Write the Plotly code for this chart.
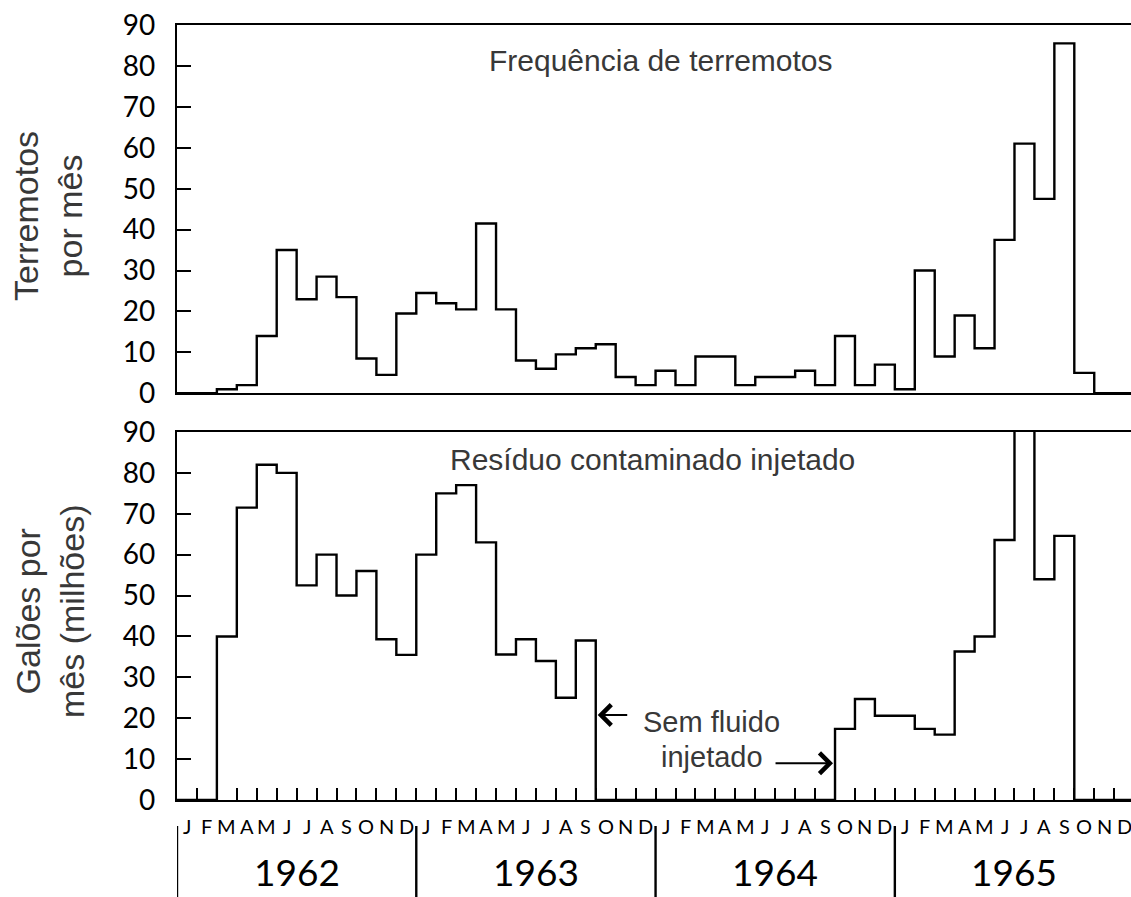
import plotly.graph_objects as go

# Monthly series, January 1962 .. December 1965 (48 months)
months = ["J", "F", "M", "A", "M", "J", "J", "A", "S", "O", "N", "D"]
years = ["1962", "1963", "1964", "1965"]

# Earthquakes per month
earthquakes = [
    0, 0, 1, 2, 14, 35, 23, 28.5, 23.5, 8.5, 4.5, 19.5,          # 1962
    24.5, 22, 20.5, 41.5, 20.5, 8, 6, 9.5, 11, 12, 4, 2,          # 1963
    5.5, 2, 9, 9, 2, 4, 4, 5.5, 2, 14, 2, 7,                      # 1964
    1, 30, 9, 19, 11, 37.5, 61, 47.5, 85.5, 5, 0, 0,              # 1965
]

# Contaminated waste injected, millions of gallons per month
injected = [
    0, 0, 40, 71.5, 82, 80, 52.5, 60, 50, 56, 39.3, 35.5,         # 1962
    60, 75, 77, 63, 35.6, 39.3, 34, 25, 39, 0, 0, 0,              # 1963
    0, 0, 0, 0, 0, 0, 0, 0, 0, 17.4, 24.7, 20.6,                  # 1964
    20.6, 17.4, 16, 36.3, 40, 63.6, 98, 54, 64.6, 0, 0, 0,        # 1965
]

W, H = 1131, 897
ML, MR, MT, MB = 177, 0, 25, 97
PLOT_W = W - ML - MR
PLOT_H = H - MT - MB
MONTH_PX = 19.94
X_MAX = PLOT_W / MONTH_PX
LW = 2.4


def py(pix):
    """Page pixel row -> paper y coordinate."""
    return (H - MB - pix) / PLOT_H


edges = list(range(len(earthquakes) + 1))

fig = go.Figure()
fig.add_trace(go.Scatter(
    x=edges, y=earthquakes + [earthquakes[-1]], mode="lines", line_shape="hv",
    line=dict(color="black", width=LW), xaxis="x", yaxis="y", showlegend=False,
    hoverinfo="skip"))
fig.add_trace(go.Scatter(
    x=edges, y=injected + [injected[-1]], mode="lines", line_shape="hv",
    line=dict(color="black", width=LW), xaxis="x2", yaxis="y2", showlegend=False,
    hoverinfo="skip"))

num_font = dict(family="Lato, Open Sans, sans-serif", size=28, color="black")
text_font = dict(family="Liberation Sans, Arial, sans-serif", size=30, color="#383838")
title_font = dict(family="Liberation Sans, Arial, sans-serif", size=34, color="#383838")

yticks = list(range(0, 91, 10))
common_y = dict(range=[0, 90], showline=True, linecolor="black", linewidth=LW,
                ticks="inside", ticklen=14, tickwidth=LW, tickcolor="black",
                tickvals=yticks, tickfont=num_font, showgrid=False, zeroline=False,
                ticklabelstandoff=14, fixedrange=True)
top_bottom = py(393.3)
bot_top = py(432)

fig.update_layout(
    width=W, height=H, margin=dict(l=ML, r=MR, t=MT, b=MB),
    paper_bgcolor="white", plot_bgcolor="white",
    xaxis=dict(range=[0, X_MAX], domain=[0, 1], anchor="y", showline=True,
               mirror=True, linecolor="black", linewidth=LW, ticks="",
               showticklabels=False, showgrid=False, zeroline=False),
    yaxis=dict(domain=[top_bottom, 1], anchor="x", **common_y),
    xaxis2=dict(range=[0, X_MAX], domain=[0, 1], anchor="y2", showline=True,
                mirror=True, linecolor="black", linewidth=LW, ticks="inside",
                tickmode="array", tickvals=list(range(1, 48)), ticklen=12,
                tickwidth=LW, tickcolor="black", showticklabels=False,
                showgrid=False, zeroline=False),
    yaxis2=dict(domain=[0, bot_top], anchor="x2", **common_y),
)

annotations = []
shapes = []

# Month letters and year labels under the lower panel
for i, yr in enumerate(years):
    for m, letter in enumerate(months):
        annotations.append(dict(
            text=letter, x=12 * i + m + 0.5, xref="x2", y=py(826), yref="paper",
            showarrow=False, xanchor="center", yanchor="middle",
            font=dict(family="Lato, sans-serif", size=20, color="black")))
    annotations.append(dict(
        text=yr, x=12 * i + 6, xref="x2", y=py(871), yref="paper",
        showarrow=False, xanchor="center", yanchor="middle",
        font=dict(family="Lato, sans-serif", size=37, color="black")))
    shapes.append(dict(type="line", xref="x2", yref="paper",
                       x0=12 * i, x1=12 * i, y0=py(826), y1=py(H + 2),
                       line=dict(color="black", width=LW)))

# Panel captions
annotations.append(dict(text="Frequência de terremotos", x=(661 - ML) / PLOT_W,
                        xref="paper", y=py(60), yref="paper", showarrow=False,
                        xanchor="center", yanchor="middle", font=text_font))
annotations.append(dict(text="Resíduo contaminado injetado", x=(652.5 - ML) / PLOT_W,
                        xref="paper", y=py(459), yref="paper", showarrow=False,
                        xanchor="center", yanchor="middle", font=text_font))

# Axis titles
annotations.append(dict(text="Terremotos<br>por mês", x=(48 - ML) / PLOT_W, xref="paper",
                        y=py(216), yref="paper", showarrow=False, textangle=-90,
                        xanchor="center", yanchor="middle", font=title_font))
annotations.append(dict(text="Galões por<br>mês (milhões)", x=(50 - ML) / PLOT_W,
                        xref="paper", y=py(612), yref="paper", showarrow=False,
                        textangle=-90, xanchor="center", yanchor="middle",
                        font=title_font))

# "No fluid injected" note with arrows to the stop and restart of injection
stop_month = next(k for k in range(3, len(injected)) if injected[k] == 0)
restart_month = next(k for k in range(stop_month, len(injected)) if injected[k] > 0)
annotations.append(dict(text="Sem fluido", x=(711.5 - ML) / PLOT_W, xref="paper",
                        y=py(722), yref="paper", showarrow=False, xanchor="center",
                        yanchor="middle", font=dict(text_font, size=29)))
annotations.append(dict(text="injetado", x=(711.5 - ML) / PLOT_W, xref="paper",
                        y=py(757), yref="paper", showarrow=False, xanchor="center",
                        yanchor="middle", font=dict(text_font, size=29)))
arrow_style = dict(showarrow=True, arrowhead=4, arrowsize=2.1, arrowwidth=1.9,
                   arrowcolor="black", standoff=0, axref="pixel", ayref="pixel",
                   text="", xref="x2", yref="y2")
annotations.append(dict(x=stop_month + 0.1, y=20.8, ax=31, ay=0, **arrow_style))
annotations.append(dict(x=restart_month - 0.1, y=9.0, ax=-59, ay=0, **arrow_style))

fig.update_layout(annotations=annotations, shapes=shapes)
fig.write_html("out.html")
